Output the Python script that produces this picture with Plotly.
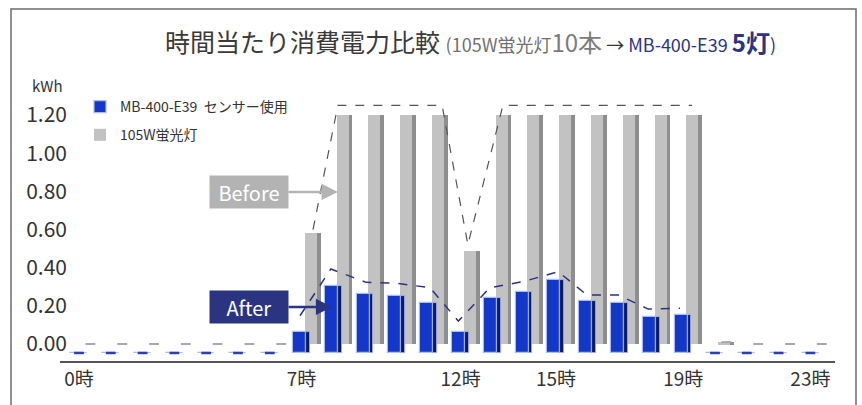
import plotly.graph_objects as go

# ---------------- data ----------------
hours = list(range(24))
tick_hours = [0, 7, 12, 15, 19, 23]
tick_labels = ["0時", "7時", "12時", "15時", "19時", "23時"]
y_ticks = [0.0, 0.2, 0.4, 0.6, 0.8, 1.0, 1.2]

# 105W蛍光灯 (Before) kWh per hour
fluorescent = [0, 0, 0, 0, 0, 0, 0,
               0.58, 1.20, 1.20, 1.20, 1.20, 0.49, 1.20,
               1.20, 1.20, 1.20, 1.20, 1.20, 1.20,
               0.01, 0, 0, 0]
# MB-400-E39 センサー使用 (After) kWh per hour
mb400 = [0, 0, 0, 0, 0, 0, 0,
         0.11, 0.35, 0.31, 0.30, 0.26, 0.11, 0.29,
         0.32, 0.38, 0.27, 0.26, 0.19, 0.20,
         0, 0, 0, 0]

# dashed guide lines (hour, kWh)
before_guide_hours = [7.36, 8.14, 11.42, 12.23, 13.33, 19.28]
before_guide_kwh = [0.60, 1.25, 1.25, 0.52, 1.25, 1.25]
after_guide_hours = [6.95, 7.92, 9.03, 10.0, 11.04, 11.93, 12.92, 13.97,
                     15.07, 15.97, 16.96, 17.90, 18.90]
after_guide_kwh = [0.148, 0.393, 0.323, 0.318, 0.295, 0.12, 0.295, 0.327,
                   0.379, 0.257, 0.257, 0.183, 0.187]

# ---------------- layout constants ----------------
W, H = 862, 405
ML, MR, MT, MB = 60, 27, 90, 44
PW, PH = W - ML - MR, H - MT - MB
X_RANGE = [-0.597, 23.774]
Y_RANGE = [-0.089, 1.331]
BLUE_BASE = -0.047      # front row sits lower (3D depth)
GRAY_SHIFT = 0.36       # back row shifted right (3D depth)

NAVY = "#2b3480"
BLUE = "#1436c9"
FONT = "Noto Sans CJK JP"


def px_x(p):
    return (p - ML) / PW


def px_y(q):
    return (H - MB - q) / PH


fig = go.Figure()

# ---- gray (back row) ----
fig.add_trace(go.Bar(
    x=hours, y=fluorescent, base=0, offset=0.10, width=0.38,
    marker=dict(color="#c2c2c2", line=dict(width=0)),
    name="105W蛍光灯", legendgroup="b", legendrank=2, showlegend=True))
fig.add_trace(go.Bar(
    x=hours, y=fluorescent, base=0, offset=0.48, width=0.12,
    marker=dict(color="#8e8e8e", line=dict(width=0)),
    showlegend=False, hoverinfo="skip"))
zero_g = [h for h, v in zip(hours, fluorescent) if v < 0.02]
fig.add_trace(go.Scatter(
    x=[h + GRAY_SHIFT for h in zero_g],
    y=[fluorescent[h] for h in zero_g],
    mode="markers",
    marker=dict(symbol="line-ew", size=7, line=dict(color="#a8a8a8", width=2)),
    showlegend=False, hoverinfo="skip"))

# ---- blue (front row) ----
fig.add_trace(go.Bar(
    x=hours, y=mb400, base=BLUE_BASE, offset=-0.27, width=0.41,
    marker=dict(color=BLUE, line=dict(color="#a9bdec", width=1.2)),
    name="MB-400-E39  センサー使用", legendgroup="a", legendrank=1, showlegend=True))
fig.add_trace(go.Bar(
    x=hours, y=mb400, base=BLUE_BASE, offset=0.14, width=0.12,
    marker=dict(color="#0c1a66", line=dict(color="#a9bdec", width=0.8)),
    showlegend=False, hoverinfo="skip"))
zero_b = [h for h, v in zip(hours, mb400) if v == 0]
fig.add_trace(go.Scatter(
    x=zero_b, y=[BLUE_BASE] * len(zero_b), mode="markers",
    marker=dict(symbol="line-ew", size=7, line=dict(color="#3040a0", width=2.5)),
    showlegend=False, hoverinfo="skip"))

# ---- dashed guides ----
fig.add_trace(go.Scatter(
    x=before_guide_hours, y=before_guide_kwh, mode="lines",
    line=dict(color="#555555", width=1.2, dash="dash"),
    showlegend=False, hoverinfo="skip"))
fig.add_trace(go.Scatter(
    x=after_guide_hours, y=after_guide_kwh, mode="lines",
    line=dict(color=NAVY, width=1.5, dash="dash"),
    showlegend=False, hoverinfo="skip"))

title_html = (
    "<span style='font-size:25px;color:#3a3a3a'>時間当たり消費電力比較 </span>"
    "<span style='font-size:18px;color:#707070'>(105W蛍光灯</span>"
    "<span style='font-size:24px;color:#7c7c7c'>10本</span>"
    "<span style='font-size:18px;color:#333333'> → </span>"
    "<span style='font-size:18px;color:#2b3480'>MB-400-E39 </span>"
    "<span style='font-size:24px;color:#2b3480'><b>5灯</b></span>"
    "<span style='font-size:18px;color:#2b3480'>)</span>"
)

fig.update_layout(
    width=W, height=H,
    margin=dict(l=ML, r=MR, t=MT, b=MB),
    paper_bgcolor="white", plot_bgcolor="white",
    barmode="overlay", bargap=0,
    font=dict(family=FONT, color="#333333"),
    showlegend=True,
    legend=dict(
        x=px_x(80), y=px_y(91), xanchor="left", yanchor="top",
        traceorder="grouped", tracegroupgap=7,
        font=dict(size=14, color="#333333", family=FONT),
        bgcolor="rgba(0,0,0,0)", itemclick=False,
    ),
    xaxis=dict(
        range=X_RANGE, showgrid=False, zeroline=False,
        showline=True, linecolor="#555555", linewidth=1.5,
        tickmode="array", tickvals=tick_hours, ticktext=tick_labels,
        ticks="", tickfont=dict(size=19, color="#333333"),
    ),
    yaxis=dict(
        range=Y_RANGE, showgrid=False, zeroline=False, showline=False,
        tickmode="array", tickvals=y_ticks,
        ticktext=[f"{v:.2f}" for v in y_ticks],
        ticks="", tickfont=dict(size=21, color="#333333"),
        ticklabelstandoff=-8,
    ),
    shapes=[dict(
        type="path", xref="paper", yref="paper",
        path=(f"M {px_x(11)},{px_y(420)} L {px_x(11)},{px_y(9)} "
              f"L {px_x(856)},{px_y(9)} L {px_x(856)},{px_y(420)}"),
        line=dict(color="#6b6b6b", width=1.5),
    )],
    annotations=[
        dict(xref="paper", yref="paper", x=px_x(163), y=px_y(41),
             xanchor="left", yanchor="middle", showarrow=False,
             text=title_html, font=dict(family=FONT)),
        dict(xref="paper", yref="paper", x=px_x(47), y=px_y(85),
             xanchor="center", yanchor="middle", showarrow=False,
             text="kWh", font=dict(size=15, color="#333333")),
        dict(xref="x", yref="y", x=8.14, y=0.797, ax=-89, ay=0,
             text="Before", font=dict(size=20, color="white"),
             bgcolor="#b3b3b3", width=78, height=32, borderpad=0,
             showarrow=True, arrowhead=2, arrowsize=1.3, arrowwidth=2.5,
             arrowcolor="#b3b3b3"),
        dict(xref="x", yref="y", x=7.96, y=0.194, ax=-83, ay=0,
             text="After", font=dict(size=20, color="white"),
             bgcolor=NAVY, width=78, height=32, borderpad=0,
             showarrow=True, arrowhead=2, arrowsize=1.3, arrowwidth=2.5,
             arrowcolor=NAVY),
    ],
)

fig.write_html("out.html")
